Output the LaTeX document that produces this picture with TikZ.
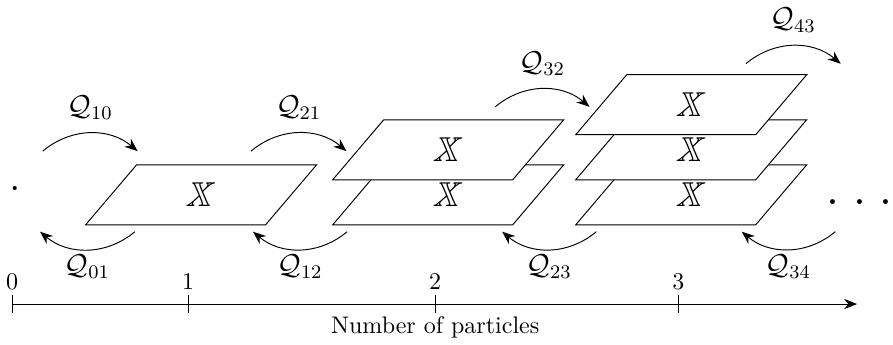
\documentclass[tikz,border=0pt]{standalone}
\usepackage{amsmath,amssymb}
\usetikzlibrary{arrows.meta,positioning}

\begin{document}
\begin{tikzpicture}[>={Stealth[length=1.9mm,width=1.5mm]},
  plane/.style={draw,fill=white,minimum width=2.637cm,minimum height=0.879cm,inner sep=0pt,xslant=0.85,transform shape},
  bbx/.style={font=\Large,inner sep=0pt,xslant=0.25,transform shape},
  qlab/.style={font=\large,inner sep=2pt}]
\useasboundingbox (-0.176,-0.586) rectangle (12.906,4.454);
\coordinate (o) at (0,0);
\coordinate (xend) at (12.38,0);
\draw[->] (o)--(xend);
\draw (0,-0.13)--(0,0.13) node[above,inner sep=2pt] {0};
\draw (2.58,-0.13)--(2.58,0.13) node[above,inner sep=2pt] {1};
\draw (6.2,-0.13)--(6.2,0.13) node[above,inner sep=2pt] {2};
\draw (9.76,-0.13)--(9.76,0.13) node[above,inner sep=2pt] {3};
\node[below=5pt,inner sep=0pt] (axlab) at (6.2,0) {Number of particles};
\node[circle,fill,inner sep=0pt,minimum size=1.7pt] (n0) at (0.04,1.7) {};
\node[plane] (p1) at (2.77,1.6) {};
\node[bbx] (x1) at (p1) {$\mathbb{X}$};
\node[plane] (p2a) at (6.39,1.6) {};
\node[bbx] (x2a) at (p2a) {$\mathbb{X}$};
\node[plane] (p2b) at (6.39,2.26) {};
\node[bbx] (x2b) at (p2b) {$\mathbb{X}$};
\node[plane] (p3a) at (9.95,1.6) {};
\node[bbx] (x3a) at (p3a) {$\mathbb{X}$};
\node[plane] (p3b) at (9.95,2.26) {};
\node[bbx] (x3b) at (p3b) {$\mathbb{X}$};
\node[plane] (p3c) at (9.95,2.92) {};
\node[bbx] (x3c) at (p3c) {$\mathbb{X}$};
\node[font=\Huge,inner sep=0pt] (more) at (12.42,1.49) {.\kern4.8pt.\kern4.8pt.};
\coordinate (a10) at (0.45,2.24);
\coordinate (b10) at (1.84,2.24);
\coordinate (a21) at (3.5,2.24);
\coordinate (b21) at (4.9,2.24);
\coordinate (a32) at (7.08,2.89);
\coordinate (b32) at (8.46,2.89);
\coordinate (a43) at (10.75,3.52);
\coordinate (b43) at (12.14,3.52);
\coordinate (a01) at (1.8,1.06);
\coordinate (b01) at (0.41,1.06);
\coordinate (a12) at (4.91,1.06);
\coordinate (b12) at (3.53,1.06);
\coordinate (a23) at (8.56,1.06);
\coordinate (b23) at (7.18,1.06);
\coordinate (a34) at (12.06,1.06);
\coordinate (b34) at (10.69,1.06);
\draw[->] (a10) to[bend left=40] node[qlab,above=3.5pt] {$\mathcal{Q}_{10}$} (b10);
\draw[->] (a21) to[bend left=40] node[qlab,above=3.5pt] {$\mathcal{Q}_{21}$} (b21);
\draw[->] (a32) to[bend left=40] node[qlab,above=3.5pt] {$\mathcal{Q}_{32}$} (b32);
\draw[->] (a43) to[bend left=40] node[qlab,above=3.5pt] {$\mathcal{Q}_{43}$} (b43);
\draw[->] (a01) to[bend left=40] node[qlab,below] {$\mathcal{Q}_{01}$} (b01);
\draw[->] (a12) to[bend left=40] node[qlab,below] {$\mathcal{Q}_{12}$} (b12);
\draw[->] (a23) to[bend left=40] node[qlab,below] {$\mathcal{Q}_{23}$} (b23);
\draw[->] (a34) to[bend left=40] node[qlab,below] {$\mathcal{Q}_{34}$} (b34);
\end{tikzpicture}
\end{document}
